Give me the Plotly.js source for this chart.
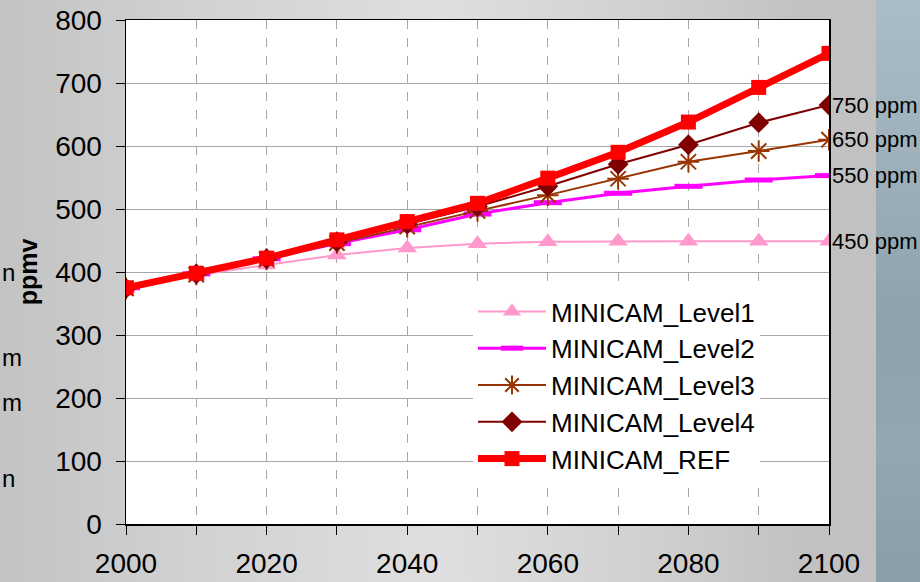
<!DOCTYPE html>
<html>
<head>
<meta charset="utf-8">
<script src="https://cdn.plot.ly/plotly-3.0.1.min.js"></script>
<style>
  html, body { margin: 0; padding: 0; }
  body {
    width: 920px; height: 582px; position: relative; overflow: hidden;
    background: linear-gradient(to right, #c3c3c3 0px, #d2d2d2 200px, #dfdfdf 440px, #d0d0d0 650px, #c2c2c2 800px, #c1c1c1 876px);
  }
  #strip {
    position: absolute; left: 876px; top: 0; width: 44px; height: 582px;
    background: linear-gradient(to bottom, #aabdc7 0px, #9fb2bc 150px, #8ea2ac 320px, #93a7b1 450px, #8a9ea8 582px);
  }
  #chart { position: absolute; left: 0; top: 0; width: 920px; height: 582px; z-index: 1; }
</style>
</head>
<body>
<div id="strip"></div>
<div id="chart"></div>
<script>
// CO2 concentration pathways (ppmv), MINICAM stabilization levels vs reference
const years = [2000, 2010, 2020, 2030, 2040, 2050, 2060, 2070, 2080, 2090, 2100];
const level1 = [374, 395, 411, 427, 438, 445, 448, 449, 449, 449, 449];
const level2 = [375, 397, 421, 445, 467, 492, 510, 525, 536, 546, 553];
const level3 = [374, 396, 420, 446, 472, 497, 522, 548, 575, 592, 610];
const level4 = [374, 397, 421, 448, 476, 504, 536, 571, 602, 637, 665];
const ref    = [375, 398, 422, 451, 480, 509, 549, 590, 638, 693, 747];

const seriesNames = ['MINICAM_Level1', 'MINICAM_Level2', 'MINICAM_Level3', 'MINICAM_Level4', 'MINICAM_REF'];
const endLabels = ['450 ppm', '550 ppm', '650 ppm', '750 ppm'];
const xTickVals = [2000, 2010, 2020, 2030, 2040, 2050, 2060, 2070, 2080, 2090, 2100];
const xTickText = ['2000', '', '2020', '', '2040', '', '2060', '', '2080', '', '2100'];
const yTickVals = [0, 100, 200, 300, 400, 500, 600, 700, 800];
const sideLetters = ['n', 'm', 'm', 'n'];

const font = 'Liberation Sans, Arial, sans-serif';

const traces = [
  {
    x: years, y: level1, name: seriesNames[0], mode: 'lines+markers',
    line: { color: '#ff99cc', width: 2 },
    marker: { symbol: 'triangle-up', size: 17, color: '#ff99cc' }
  },
  {
    x: years, y: level2, name: seriesNames[1], mode: 'lines+markers',
    line: { color: '#ff00ff', width: 3 },
    marker: { symbol: 'line-ew', size: 20, color: '#ff00ff', line: { color: '#ff00ff', width: 5 } }
  },
  {
    x: years, y: level3, name: seriesNames[2], mode: 'lines+markers',
    line: { color: '#993300', width: 2 },
    marker: { symbol: 'asterisk', size: 18, color: '#993300', line: { color: '#993300', width: 2 } }
  },
  {
    x: years, y: level4, name: seriesNames[3], mode: 'lines+markers',
    line: { color: '#800000', width: 2 },
    marker: { symbol: 'diamond', size: 16, color: '#800000' }
  },
  {
    x: years, y: ref, name: seriesNames[4], mode: 'lines+markers',
    line: { color: '#ff0000', width: 7 },
    marker: { symbol: 'square', size: 15, color: '#ff0000' }
  }
];

// scenario labels at the 2100 end of each stabilization path
const endValues = [level1[10], level2[10], level3[10], level4[10]];
const annotations = endLabels.map((t, i) => ({
  x: 2100, y: endValues[i], xref: 'x', yref: 'y', text: t,
  showarrow: false, xanchor: 'left', yanchor: 'middle', xshift: 1,
  font: { family: font, size: 22, color: '#000' }
}));

// letters of the neighbouring slide text at the far left (pixel positions)
const letterY = [272, 357, 402, 478];
sideLetters.forEach((ch, i) => {
  annotations.push({
    x: (0 - 126) / 703, y: (524 - letterY[i]) / 504, xref: 'paper', yref: 'paper', text: ch,
    showarrow: false, xanchor: 'left', yanchor: 'middle',
    font: { family: font, size: 24, color: '#000' }
  });
});

const layout = {
  width: 920, height: 582,
  margin: { l: 126, r: 91, t: 20, b: 58 },
  paper_bgcolor: 'rgba(0,0,0,0)',
  plot_bgcolor: '#ffffff',
  font: { family: font, size: 28, color: '#000' },
  showlegend: true,
  legend: {
    x: (473 - 126) / 703, y: (524 - 288) / 504, xanchor: 'left', yanchor: 'top',
    bgcolor: '#ffffff', borderwidth: 0,
    font: { family: font, size: 26, color: '#000' },
    itemwidth: 68, tracegroupgap: 0
  },
  xaxis: {
    range: [2000, 2100],
    tickvals: xTickVals, ticktext: xTickText,
    ticks: 'outside', ticklen: 9, tickcolor: '#000', tickwidth: 1,
    ticklabelstandoff: 5,
    showline: true, linecolor: '#000', linewidth: 1.5, mirror: true,
    showgrid: true, gridcolor: '#a6a6a6', gridwidth: 1, griddash: 'dash',
    zeroline: false,
    tickfont: { family: font, size: 28, color: '#000' }
  },
  yaxis: {
    range: [0, 800],
    tickvals: yTickVals,
    ticks: 'outside', ticklen: 9, tickcolor: '#000', tickwidth: 1,
    ticklabelstandoff: 8,
    showline: true, linecolor: '#000', linewidth: 1.5, mirror: true,
    showgrid: true, gridcolor: '#a6a6a6', gridwidth: 1,
    zeroline: false,
    tickfont: { family: font, size: 28, color: '#000' },
    title: { text: '<b>ppmv</b>', standoff: 10, font: { family: font, size: 25, color: '#000' } }
  },
  annotations: annotations
};

Plotly.newPlot('chart', traces, layout, { displayModeBar: false, staticPlot: true });
</script>
</body>
</html>
